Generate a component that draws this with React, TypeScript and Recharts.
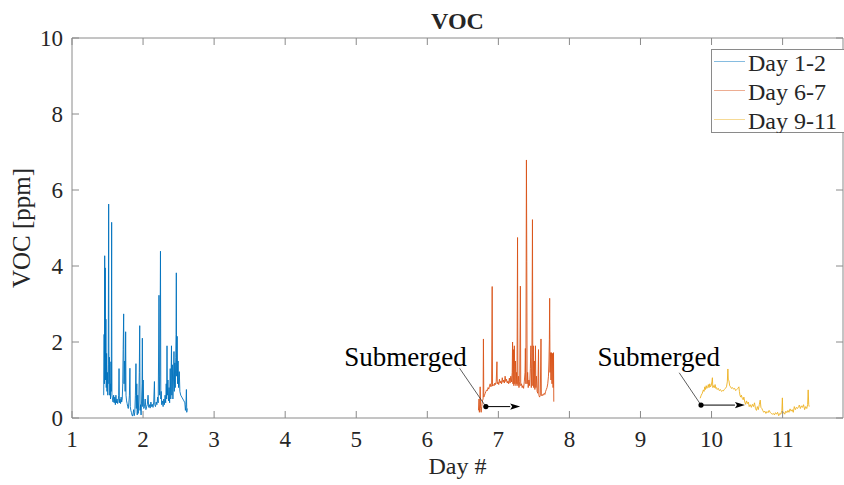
import {
  LineChart,
  Line,
  XAxis,
  YAxis,
  ReferenceArea,
  ReferenceDot,
  ReferenceLine,
  Legend,
} from 'recharts'

const FONT = '"Liberation Serif", "Times New Roman", serif'
const AXIS = '#8a8a8a'
const TEXT = '#262626'

const W = 844
const H = 485
// plot box in page pixels (used for decorations only: inward ticks)
const PLOT = { left: 72, top: 38, right: 843, bottom: 418 }

const dayTicks = [1, 2, 3, 4, 5, 6, 7, 8, 9, 10, 11]
const vocTicks = [0, 2, 4, 6, 8, 10]
const dayDomain = [1, 11.85]
const vocDomain = [0, 10]

const seriesNames = ['Day 1-2', 'Day 6-7', 'Day 9-11']
const seriesColors = ['#0072BD', '#D95319', '#EDB120']

// [day, VOC ppm]
const day12: [number, number][] = [
  [1.446, 0.6], [1.452, 2.2], [1.456, 0.9], [1.46, 4.27], [1.464, 1.6], [1.468, 3.95],
  [1.472, 1.0], [1.477, 2.6], [1.482, 0.8], [1.487, 1.7], [1.492, 0.7], [1.498, 1.2],
  [1.504, 0.6], [1.51, 1.4], [1.516, 5.63], [1.52, 0.9], [1.526, 1.6], [1.531, 0.6],
  [1.537, 0.9], [1.542, 0.5], [1.548, 1.48], [1.553, 0.7], [1.558, 5.15], [1.562, 0.6],
  [1.57, 0.5], [1.578, 0.42], [1.586, 0.6], [1.594, 0.4], [1.602, 0.55], [1.61, 0.35],
  [1.618, 0.6], [1.626, 0.4], [1.634, 0.5], [1.642, 0.38], [1.65, 0.45], [1.657, 0.6],
  [1.662, 1.3], [1.667, 0.4], [1.675, 0.5], [1.683, 0.38], [1.691, 0.55], [1.699, 0.42],
  [1.707, 0.5], [1.714, 0.9], [1.72, 1.8], [1.727, 2.74], [1.732, 0.9], [1.74, 1.5],
  [1.748, 0.7], [1.755, 2.27], [1.76, 0.6], [1.768, 0.45], [1.776, 0.38], [1.784, 0.3],
  [1.792, 0.25], [1.8, 0.4], [1.808, 0.6], [1.815, 1.31], [1.82, 0.3], [1.828, 0.2],
  [1.836, 0.15], [1.844, 0.08], [1.852, 0.05], [1.86, 0.12], [1.868, 0.22], [1.876, 0.06],
  [1.884, 0.15], [1.892, 0.6], [1.9, 1.43], [1.905, 0.25], [1.912, 0.9], [1.918, 0.08],
  [1.925, 0.6], [1.932, 0.12], [1.94, 0.5], [1.947, 1.2], [1.953, 2.43], [1.958, 0.2],
  [1.965, 0.35], [1.972, 0.08], [1.98, 0.5], [1.986, 0.9], [1.99, 2.1], [1.995, 0.3],
  [2.002, 1.0], [2.01, 0.25], [2.02, 0.3], [2.03, 0.5], [2.04, 0.22], [2.05, 0.3],
  [2.06, 0.35], [2.07, 0.6], [2.08, 0.28], [2.09, 0.35], [2.1, 0.26], [2.11, 0.42],
  [2.12, 0.3], [2.13, 0.36], [2.14, 0.28], [2.15, 0.42], [2.16, 0.96], [2.165, 0.35],
  [2.175, 0.3], [2.185, 0.42], [2.195, 0.35], [2.205, 0.55], [2.213, 0.4], [2.218, 1.5],
  [2.224, 3.23], [2.23, 0.6], [2.237, 1.1], [2.245, 4.39], [2.25, 0.5], [2.255, 0.7],
  [2.262, 0.35], [2.272, 0.45], [2.282, 0.3], [2.292, 0.5], [2.3, 0.35], [2.31, 0.6],
  [2.318, 0.4], [2.326, 0.9], [2.332, 0.5], [2.337, 1.9], [2.342, 0.6], [2.35, 1.0],
  [2.358, 0.45], [2.366, 0.8], [2.374, 0.4], [2.382, 1.3], [2.39, 0.5], [2.4, 1.9],
  [2.405, 0.6], [2.412, 1.4], [2.42, 0.5], [2.428, 1.0], [2.435, 1.75], [2.44, 0.7],
  [2.447, 1.45], [2.453, 0.8], [2.46, 1.6], [2.464, 2.2], [2.468, 3.82], [2.473, 1.1],
  [2.48, 2.15], [2.486, 0.9], [2.493, 1.5], [2.5, 0.8], [2.51, 1.22], [2.518, 0.7],
  [2.53, 0.6], [2.545, 0.55], [2.56, 0.5], [2.575, 0.45], [2.588, 0.4], [2.596, 0.2],
  [2.603, 0.35], [2.61, 0.75], [2.615, 0.15], [2.622, 0.25],
]

const day67: [number, number][] = [
  [6.72, 0.2], [6.728, 0.5], [6.733, 0.15], [6.74, 0.35], [6.744, 0.82], [6.75, 0.25],
  [6.758, 0.15], [6.766, 0.3], [6.775, 0.45], [6.785, 0.5], [6.79, 2.08], [6.795, 0.55],
  [6.805, 0.6], [6.815, 0.65], [6.825, 0.7], [6.835, 0.74], [6.845, 0.72], [6.855, 0.8],
  [6.865, 0.76], [6.875, 0.84], [6.885, 0.9], [6.895, 0.82], [6.905, 0.88], [6.913, 3.46],
  [6.918, 0.84], [6.928, 0.88], [6.94, 0.85], [6.95, 0.92], [6.96, 0.88], [6.97, 0.96],
  [6.98, 1.48], [6.985, 0.9], [6.995, 0.94], [7.005, 0.88], [7.015, 1.02], [7.025, 0.92],
  [7.035, 0.97], [7.045, 0.9], [7.055, 1.06], [7.065, 0.94], [7.075, 1.0], [7.085, 0.92],
  [7.095, 1.1], [7.105, 0.96], [7.115, 1.02], [7.125, 0.92], [7.135, 0.97], [7.145, 0.9],
  [7.155, 1.05], [7.165, 0.92], [7.175, 1.1], [7.185, 0.95], [7.195, 1.2], [7.2, 2.0],
  [7.205, 0.9], [7.212, 1.8], [7.218, 0.85], [7.225, 1.9], [7.232, 0.9], [7.24, 1.5],
  [7.248, 0.85], [7.256, 1.2], [7.262, 0.9], [7.27, 4.75], [7.275, 0.85], [7.283, 1.1],
  [7.29, 0.8], [7.3, 0.95], [7.31, 3.47], [7.315, 0.85], [7.325, 0.9], [7.335, 0.8],
  [7.345, 0.85], [7.355, 0.78], [7.365, 0.95], [7.375, 1.2], [7.38, 1.83], [7.387, 0.9],
  [7.395, 6.79], [7.4, 4.12], [7.405, 0.9], [7.412, 1.2], [7.42, 0.8], [7.43, 1.0],
  [7.44, 0.85], [7.45, 1.3], [7.458, 1.9], [7.464, 0.8], [7.472, 1.6], [7.48, 5.22],
  [7.485, 0.85], [7.492, 1.9], [7.498, 0.8], [7.506, 1.5], [7.514, 0.75], [7.522, 1.9],
  [7.528, 0.8], [7.536, 1.1], [7.545, 0.7], [7.555, 0.65], [7.565, 1.8], [7.57, 0.6],
  [7.58, 0.55], [7.59, 0.6], [7.6, 2.08], [7.605, 0.6], [7.615, 0.58], [7.625, 0.62],
  [7.635, 0.6], [7.645, 0.65], [7.655, 0.62], [7.665, 0.7], [7.675, 0.75], [7.685, 0.8],
  [7.695, 0.9], [7.705, 1.1], [7.712, 1.5], [7.718, 2.07], [7.722, 3.15], [7.727, 1.2],
  [7.733, 1.72], [7.74, 1.0], [7.748, 1.72], [7.755, 0.9], [7.762, 1.7], [7.77, 0.8],
  [7.776, 1.72], [7.78, 0.43],
]

const day911: [number, number][] = [
  [9.84, 0.52], [9.855, 0.6], [9.87, 0.65], [9.885, 0.74], [9.895, 0.7], [9.905, 0.82],
  [9.915, 0.75], [9.925, 0.85], [9.935, 0.78], [9.945, 0.8], [9.955, 0.88], [9.965, 0.8],
  [9.975, 0.9], [9.985, 0.82], [9.995, 0.85], [10.005, 0.95], [10.012, 1.06], [10.018, 0.8],
  [10.028, 0.85], [10.04, 0.8], [10.05, 0.88], [10.06, 0.78], [10.07, 0.8], [10.08, 0.75],
  [10.095, 0.78], [10.11, 0.72], [10.125, 0.75], [10.14, 0.7], [10.155, 0.72], [10.165, 0.71],
  [10.18, 0.75], [10.195, 0.78], [10.21, 0.82], [10.222, 0.95], [10.23, 1.29], [10.236, 1.0],
  [10.245, 0.98], [10.255, 0.85], [10.268, 0.82], [10.28, 0.78], [10.295, 0.8], [10.31, 0.76],
  [10.325, 0.78], [10.34, 0.72], [10.355, 0.75], [10.37, 0.78], [10.385, 0.82], [10.392, 0.7],
  [10.4, 0.6], [10.41, 0.55], [10.42, 0.6], [10.432, 0.52], [10.445, 0.48], [10.455, 0.55],
  [10.468, 0.42], [10.48, 0.36], [10.492, 0.45], [10.505, 0.38], [10.518, 0.42], [10.53, 0.3],
  [10.545, 0.35], [10.56, 0.28], [10.575, 0.36], [10.59, 0.3], [10.605, 0.4], [10.618, 0.25],
  [10.632, 0.2], [10.645, 0.3], [10.658, 0.22], [10.672, 0.35], [10.685, 0.47], [10.695, 0.28],
  [10.708, 0.25], [10.72, 0.2], [10.735, 0.15], [10.75, 0.18], [10.765, 0.12], [10.78, 0.17],
  [10.795, 0.14], [10.81, 0.2], [10.825, 0.15], [10.84, 0.12], [10.855, 0.1], [10.87, 0.12],
  [10.885, 0.08], [10.9, 0.14], [10.915, 0.1], [10.93, 0.15], [10.945, 0.06], [10.96, 0.12],
  [10.975, 0.1], [10.99, 0.2], [10.997, 0.53], [11.003, 0.12], [11.015, 0.15], [11.03, 0.1],
  [11.045, 0.18], [11.06, 0.14], [11.075, 0.2], [11.09, 0.15], [11.105, 0.24], [11.12, 0.18],
  [11.135, 0.22], [11.15, 0.15], [11.165, 0.3], [11.18, 0.22], [11.195, 0.28], [11.21, 0.25],
  [11.225, 0.3], [11.235, 0.34], [11.25, 0.25], [11.265, 0.32], [11.28, 0.28], [11.295, 0.35],
  [11.31, 0.22], [11.325, 0.3], [11.34, 0.25], [11.352, 0.35], [11.36, 0.74], [11.368, 0.35],
  [11.375, 0.3],
]

// "Submerged" annotations: text anchor, leader start, dot, arrow end (data coords)
const noteText = [[4.83, 1.38], [8.394, 1.38]]
const noteLeader = [[6.454, 1.31], [9.545, 1.19]]
const noteDot = [[6.824, 0.3], [9.852, 0.34]]
const noteArrowEnd = [7.307, 10.47]

const toRows = (pts: [number, number][]) => pts.map(([d, v]) => ({ d, v }))
const seriesData = [toRows(day12), toRows(day67), toRows(day911)]

function DayTick({ x, payload }: any) {
  return (
    <g>
      <line x1={x} x2={x} y1={PLOT.bottom} y2={PLOT.bottom - 7} stroke={AXIS} />
      <line x1={x} x2={x} y1={PLOT.top} y2={PLOT.top + 7} stroke={AXIS} />
      <text x={x} y={PLOT.bottom + 29} textAnchor="middle" fontSize={23} fontFamily={FONT} fill={TEXT}>
        {payload.value}
      </text>
    </g>
  )
}

function VocTick({ y, payload }: any) {
  return (
    <g>
      <line x1={PLOT.left} x2={PLOT.left + 7} y1={y} y2={y} stroke={AXIS} />
      <line x1={PLOT.right} x2={PLOT.right - 7} y1={y} y2={y} stroke={AXIS} />
      <text x={PLOT.left - 9} y={y + 8} textAnchor="end" fontSize={23} fontFamily={FONT} fill={TEXT}>
        {payload.value}
      </text>
    </g>
  )
}

function Arrow(p: any) {
  const { x1, y1, x2, y2 } = p
  const a = Math.atan2(y2 - y1, x2 - x1)
  const len = 10
  const half = 3.2
  const bx = x2 - len * Math.cos(a)
  const by = y2 - len * Math.sin(a)
  const pts = [
    [x2, y2],
    [bx - half * Math.sin(a), by + half * Math.cos(a)],
    [bx + 2 * Math.cos(a), by + 2 * Math.sin(a)],
    [bx + half * Math.sin(a), by - half * Math.cos(a)],
  ]
  return (
    <g>
      <line x1={x1} y1={y1} x2={bx} y2={by} stroke="#000" strokeWidth={1} />
      <polygon points={pts.map((q) => q.join(',')).join(' ')} fill="#000" />
    </g>
  )
}

function LegendBox() {
  return (
    <svg width={134} height={84} style={{ display: 'block' }}>
      <rect x={0.5} y={0.5} width={140} height={83} fill="#fff" stroke={AXIS} />
      {seriesNames.map((name, i) => (
        <g key={name}>
          <line
            x1={3}
            x2={34}
            y1={12.5 + i * 29}
            y2={12.5 + i * 29}
            stroke={seriesColors[i]}
            strokeWidth={0.8}
            strokeOpacity={0.6}
          />
          <text x={37} y={21.5 + i * 29} fontSize={24} fontFamily={FONT} fill={TEXT}>
            {name}
          </text>
        </g>
      ))}
    </svg>
  )
}

export default function App() {
  return (
    <div style={{ position: 'absolute', left: 0, top: 0, width: W, height: H, background: '#fff' }}>
      <div
        style={{
          position: 'absolute',
          left: PLOT.left,
          width: PLOT.right - PLOT.left,
          top: 9,
          textAlign: 'center',
          fontFamily: FONT,
          fontWeight: 'bold',
          fontSize: 24,
          lineHeight: '24px',
          color: TEXT,
          zIndex: 2,
        }}
      >
        VOC
      </div>
      <LineChart width={W} height={H} margin={{ top: PLOT.top, right: W - PLOT.right, left: 0, bottom: 0 }}>
        <XAxis
          type="number"
          dataKey="d"
          domain={dayDomain}
          ticks={dayTicks}
          allowDataOverflow
          axisLine={false}
          tickLine={false}
          tick={<DayTick />}
          height={H - PLOT.bottom}
          label={{
            content: ({ viewBox }: any) => (
              <text
                x={viewBox.x + viewBox.width / 2}
                y={viewBox.y + 56}
                textAnchor="middle"
                fontSize={24}
                fontFamily={FONT}
                fill={TEXT}
              >
                Day #
              </text>
            ),
          }}
        />
        <YAxis
          type="number"
          domain={vocDomain}
          ticks={vocTicks}
          allowDataOverflow
          axisLine={false}
          tickLine={false}
          tick={<VocTick />}
          width={PLOT.left}
          label={{
            content: ({ viewBox }: any) => {
              const cy = viewBox.y + viewBox.height / 2
              return (
                <text
                  x={30}
                  y={cy}
                  transform={`rotate(-90, 30, ${cy})`}
                  textAnchor="middle"
                  fontSize={25}
                  fontFamily={FONT}
                  fill={TEXT}
                >
                  VOC [ppm]
                </text>
              )
            },
          }}
        />
        <ReferenceArea
          x1={dayDomain[0]}
          x2={dayDomain[1]}
          y1={vocDomain[0]}
          y2={vocDomain[1]}
          fill="none"
          fillOpacity={0}
          stroke={AXIS}
          strokeWidth={1}
          ifOverflow="visible"
        />
        {seriesData.map((rows, i) => (
          <Line
            key={seriesNames[i]}
            data={rows}
            dataKey="v"
            name={seriesNames[i]}
            type="linear"
            stroke={seriesColors[i]}
            strokeWidth={0.9}
            dot={false}
            activeDot={false}
            isAnimationActive={false}
          />
        ))}
        {noteText.map(([d, v], i) => (
          <ReferenceDot
            key={'t' + i}
            x={d}
            y={v}
            r={0}
            ifOverflow="visible"
            shape={(p: any) => (
              <text x={p.cx} y={p.cy} fontSize={27} fontFamily={FONT} fill="#000">
                Submerged
              </text>
            )}
          />
        ))}
        {noteLeader.map(([d, v], i) => (
          <ReferenceLine
            key={'l' + i}
            segment={[
              { x: d, y: v },
              { x: noteDot[i][0], y: noteDot[i][1] },
            ]}
            stroke="#333"
            strokeWidth={0.8}
            ifOverflow="visible"
          />
        ))}
        {noteDot.map(([d, v], i) => (
          <ReferenceLine
            key={'a' + i}
            segment={[
              { x: d, y: v },
              { x: noteArrowEnd[i], y: v },
            ]}
            ifOverflow="visible"
            shape={<Arrow />}
          />
        ))}
        {noteDot.map(([d, v], i) => (
          <ReferenceDot key={'d' + i} x={d} y={v} r={2.6} fill="#000" stroke="none" ifOverflow="visible" />
        ))}
        <Legend
          layout="horizontal"
          verticalAlign="middle"
          align="center"
          wrapperStyle={{ left: 711, top: 49, width: 134, height: 84 }}
          content={() => <LegendBox />}
        />
      </LineChart>
    </div>
  )
}
